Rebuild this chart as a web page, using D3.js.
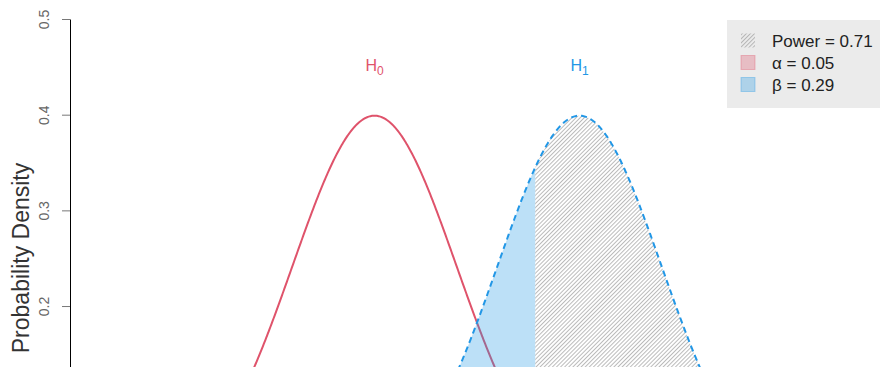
<!DOCTYPE html>
<html>
<head>
<meta charset="utf-8">
<script src="https://cdn.jsdelivr.net/npm/d3@7"></script>
<style>
  body { margin: 0; background: #fff; }
  svg { display: block; font-family: "Liberation Sans", Arial, Helvetica, sans-serif; }
</style>
</head>
<body>
<svg id="chart" width="880" height="367"></svg>
<script>
// Null and alternative hypotheses of a two-sided z test
const hypotheses = ["H", "H"];
const hypothesisSubscripts = ["0", "1"];
const means = [0, 2.5];
const sds = [1, 1];
const criticalValue = 1.96;          // two-sided, alpha = 0.05
const legendNames = ["Power", "\u03b1", "\u03b2"];
const legendValues = [0.71, 0.05, 0.29];
const yTicks = [0.2, 0.3, 0.4, 0.5];
const xExtent = [-3.5, 6];

const colH0 = "#DF536B";
const colH1 = "#2297E6";

const svg = d3.select("#chart");

const x = d3.scaleLinear().domain(xExtent).range([87.5, 866.5]);
const y = d3.scaleLinear().domain([0, 0.5]).range([497.4, 19]);

const pdf = (v, m, s) => Math.exp(-0.5 * ((v - m) / s) ** 2) / (s * Math.sqrt(2 * Math.PI));
const grid = d3.range(xExtent[0], xExtent[1] + 1e-9, 0.01);
const curve = i => grid.map(v => [v, pdf(v, means[i], sds[i])]);

const line = d3.line().x(d => x(d[0])).y(d => y(d[1]));
const area = d3.area().x(d => x(d[0])).y0(y(0)).y1(d => y(d[1]));

// hatch pattern for the power region
const defs = svg.append("defs");
defs.append("pattern")
  .attr("id", "hatch")
  .attr("patternUnits", "userSpaceOnUse")
  .attr("width", 2.9).attr("height", 10)
  .attr("patternTransform", "rotate(45)")
  .append("line")
  .attr("x1", 0.5).attr("y1", 0).attr("x2", 0.5).attr("y2", 10)
  .attr("stroke", "#a8a8a8").attr("stroke-width", 0.8);

const plot = svg.append("g");

// H0 density
plot.append("path")
  .datum(curve(0))
  .attr("fill", "none")
  .attr("stroke", colH0)
  .attr("stroke-width", 2)
  .attr("d", line);

// alpha: both tails of H0 beyond the critical values
const h0 = curve(0);
plot.append("path")
  .datum(h0.filter(d => d[0] >= criticalValue))
  .attr("fill", colH0).attr("fill-opacity", 0.3)
  .attr("d", area);
plot.append("path")
  .datum(h0.filter(d => d[0] <= -criticalValue))
  .attr("fill", colH0).attr("fill-opacity", 0.3)
  .attr("d", area);

// beta: H1 below the upper critical value
const h1 = curve(1);
plot.append("path")
  .datum(h1.filter(d => d[0] <= criticalValue))
  .attr("fill", colH1).attr("fill-opacity", 0.3)
  .attr("d", area);

// power: H1 beyond the upper critical value (hatched)
plot.append("path")
  .datum(h1.filter(d => d[0] >= criticalValue))
  .attr("fill", "url(#hatch)")
  .attr("d", area);

// H1 density, dashed
plot.append("path")
  .datum(h1)
  .attr("fill", "none")
  .attr("stroke", colH1)
  .attr("stroke-width", 2)
  .attr("stroke-dasharray", "6,4")
  .attr("d", line);

// hypothesis labels above the peaks
const labColors = [colH0, colH1];
hypotheses.forEach((h, i) => {
  const t = svg.append("text")
    .attr("x", x(means[i]))
    .attr("y", 71)
    .attr("text-anchor", "middle")
    .attr("fill", labColors[i])
    .attr("font-size", 16);
  t.append("tspan").text(h);
  t.append("tspan").attr("font-size", 12).attr("dy", 4).text(hypothesisSubscripts[i]);
});

// y axis
const axis = svg.append("g")
  .attr("transform", "translate(70,0)")
  .call(d3.axisLeft(y).tickValues(yTicks).tickSize(8).tickSizeOuter(0).tickFormat(d3.format(".1f")));
axis.select(".domain").attr("stroke", "#000").attr("stroke-width", 1);
axis.selectAll(".tick line").attr("stroke", "#777");
axis.selectAll(".tick text")
  .attr("x", null).attr("dy", null)
  .attr("transform", "translate(-21,0) rotate(-90)")
  .attr("text-anchor", "middle")
  .attr("fill", "#666")
  .attr("font-size", 14)
  .attr("font-family", "Liberation Sans, Arial, sans-serif");

svg.append("text")
  .attr("transform", "translate(29,258) rotate(-90)")
  .attr("text-anchor", "middle")
  .attr("fill", "#333")
  .attr("font-size", 23)
  .text("Probability Density");

// legend
const legend = svg.append("g");
legend.append("rect")
  .attr("x", 727).attr("y", 20)
  .attr("width", 200).attr("height", 88)
  .attr("fill", "#ebebeb");

const swatchFill = ["url(#hatch)", colH0, colH1];
const swatchOpacity = [1, 0.3, 0.3];
legendNames.forEach((name, i) => {
  const cy = 40.5 + i * 22;
  legend.append("rect")
    .attr("x", 741).attr("y", cy - 7)
    .attr("width", 14).attr("height", 14)
    .attr("fill", swatchFill[i])
    .attr("fill-opacity", swatchOpacity[i])
    .attr("stroke", i === 0 ? "none" : swatchFill[i])
    .attr("stroke-opacity", 0.35);
  legend.append("text")
    .attr("x", 772).attr("y", cy + 6.5)
    .attr("fill", "#222")
    .attr("font-size", 17)
    .text(`${name} = ${legendValues[i].toFixed(2)}`);
});
</script>
</body>
</html>
